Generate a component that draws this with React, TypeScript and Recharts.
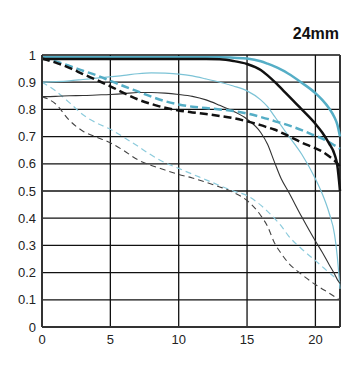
import React from "react";
import {
  LineChart, Line, XAxis, YAxis, CartesianGrid, ReferenceLine,
} from "recharts";

// image height (mm from centre)
const positions = [0, 1, 2, 3, 4, 5, 6, 7, 8, 9, 10, 11, 12, 13, 14, 15, 16, 16.5, 17, 17.5, 18, 19, 20, 20.5, 21, 21.4, 21.6, 21.8];

// 10 lp/mm sagittal, wide open / f8
const sag10Open = [0.985, 0.985, 0.985, 0.985, 0.985, 0.985, 0.985, 0.985, 0.985, 0.985, 0.985, 0.985, 0.985, 0.984, 0.978, 0.967, 0.945, 0.925, 0.902, 0.877, 0.852, 0.8, 0.747, 0.715, 0.675, 0.635, 0.595, 0.5];
const sag10F8 = [0.992, 0.992, 0.992, 0.992, 0.992, 0.992, 0.992, 0.992, 0.992, 0.992, 0.992, 0.992, 0.992, 0.992, 0.99, 0.987, 0.977, 0.968, 0.958, 0.946, 0.932, 0.898, 0.86, 0.835, 0.804, 0.77, 0.745, 0.7];
// 10 lp/mm meridional
const mer10Open = [0.987, 0.972, 0.953, 0.93, 0.908, 0.885, 0.86, 0.837, 0.82, 0.806, 0.796, 0.789, 0.783, 0.776, 0.768, 0.756, 0.742, 0.734, 0.726, 0.715, 0.703, 0.678, 0.657, 0.645, 0.628, 0.612, 0.602, 0.59];
const mer10F8 = [0.988, 0.976, 0.96, 0.942, 0.925, 0.905, 0.885, 0.866, 0.847, 0.83, 0.818, 0.81, 0.805, 0.8, 0.794, 0.785, 0.772, 0.765, 0.757, 0.75, 0.742, 0.724, 0.703, 0.693, 0.68, 0.668, 0.662, 0.655];
// 30 lp/mm sagittal
const sag30Open = [0.847, 0.848, 0.85, 0.851, 0.853, 0.855, 0.858, 0.862, 0.862, 0.86, 0.855, 0.848, 0.835, 0.815, 0.793, 0.764, 0.715, 0.672, 0.607, 0.545, 0.5, 0.405, 0.316, 0.275, 0.23, 0.195, 0.175, 0.16];
const sag30F8 = [0.9, 0.902, 0.905, 0.91, 0.915, 0.92, 0.925, 0.931, 0.934, 0.933, 0.93, 0.923, 0.912, 0.9, 0.886, 0.868, 0.835, 0.81, 0.775, 0.74, 0.705, 0.635, 0.545, 0.49, 0.42, 0.34, 0.26, 0.14];
// 30 lp/mm meridional
const mer30Open = [0.847, 0.82, 0.76, 0.72, 0.698, 0.677, 0.648, 0.615, 0.594, 0.577, 0.561, 0.548, 0.532, 0.515, 0.495, 0.465, 0.41, 0.37, 0.31, 0.27, 0.237, 0.193, 0.156, 0.14, 0.125, 0.112, 0.105, 0.1];
const mer30F8 = [0.9, 0.868, 0.825, 0.78, 0.75, 0.727, 0.697, 0.665, 0.632, 0.604, 0.583, 0.562, 0.541, 0.52, 0.5, 0.483, 0.448, 0.425, 0.4, 0.372, 0.337, 0.287, 0.244, 0.222, 0.2, 0.183, 0.174, 0.165];

const xTicks = [0, 5, 10, 15, 20];
const yTicks = [0, 0.1, 0.2, 0.3, 0.4, 0.5, 0.6, 0.7, 0.8, 0.9, 1];
const xMax = 21.8;
const title = "24mm";

const data = positions.map((x, i) => ({
  x,
  sag10Open: sag10Open[i],
  sag10F8: sag10F8[i],
  mer10Open: mer10Open[i],
  mer10F8: mer10F8[i],
  sag30Open: sag30Open[i],
  sag30F8: sag30F8[i],
  mer30Open: mer30Open[i],
  mer30F8: mer30F8[i],
}));

const font = "'Liberation Sans', Arial, sans-serif";
const tickStyle = { fill: "#222", fontSize: 13, fontFamily: font };

export default function App() {
  return (
    <div style={{ position: "fixed", left: 0, top: 0, width: 360, height: 368, background: "#fff" }}>
      <div
        style={{
          position: "absolute", left: 0, top: 26, width: 339, textAlign: "right",
          fontFamily: font, fontWeight: "bold", fontSize: 16, lineHeight: "16px", color: "#111",
        }}
      >
        {title}
      </div>
      <LineChart width={360} height={368} data={data} margin={{ top: 55, right: 20, left: 0, bottom: 11 }}>
        <CartesianGrid stroke="#111" strokeWidth={1.3} />
        <XAxis
          dataKey="x"
          type="number"
          domain={[0, xMax]}
          ticks={xTicks}
          tick={tickStyle}
          tickLine={false}
          axisLine={{ stroke: "#333", strokeWidth: 2 }}
          height={30}
        />
        <YAxis
          type="number"
          domain={[0, 1]}
          ticks={yTicks}
          tick={tickStyle}
          tickLine={false}
          tickSize={4}
          axisLine={{ stroke: "#333", strokeWidth: 2 }}
          width={42}
          tickFormatter={(v) => String(v)}
        />
        <ReferenceLine x={xMax} stroke="#333" strokeWidth={2} />

        <Line type="monotone" dataKey="sag30F8" stroke="#7cc3d6" strokeWidth={1.2} dot={false} isAnimationActive={false} />
        <Line type="monotone" dataKey="mer30F8" stroke="#8ccbdc" strokeWidth={1.2} strokeDasharray="6 4" dot={false} isAnimationActive={false} />
        <Line type="monotone" dataKey="sag30Open" stroke="#333" strokeWidth={1.1} dot={false} isAnimationActive={false} />
        <Line type="monotone" dataKey="mer30Open" stroke="#444" strokeWidth={1.1} strokeDasharray="6 4" dot={false} isAnimationActive={false} />
        <Line type="monotone" dataKey="mer10F8" stroke="#55aec6" strokeWidth={2.5} strokeDasharray="8 4" dot={false} isAnimationActive={false} />
        <Line type="monotone" dataKey="sag10F8" stroke="#55aec6" strokeWidth={2.5} dot={false} isAnimationActive={false} />
        <Line type="monotone" dataKey="mer10Open" stroke="#111" strokeWidth={2.5} strokeDasharray="8 4" dot={false} isAnimationActive={false} />
        <Line type="monotone" dataKey="sag10Open" stroke="#111" strokeWidth={2.5} dot={false} isAnimationActive={false} />
      </LineChart>
    </div>
  );
}
